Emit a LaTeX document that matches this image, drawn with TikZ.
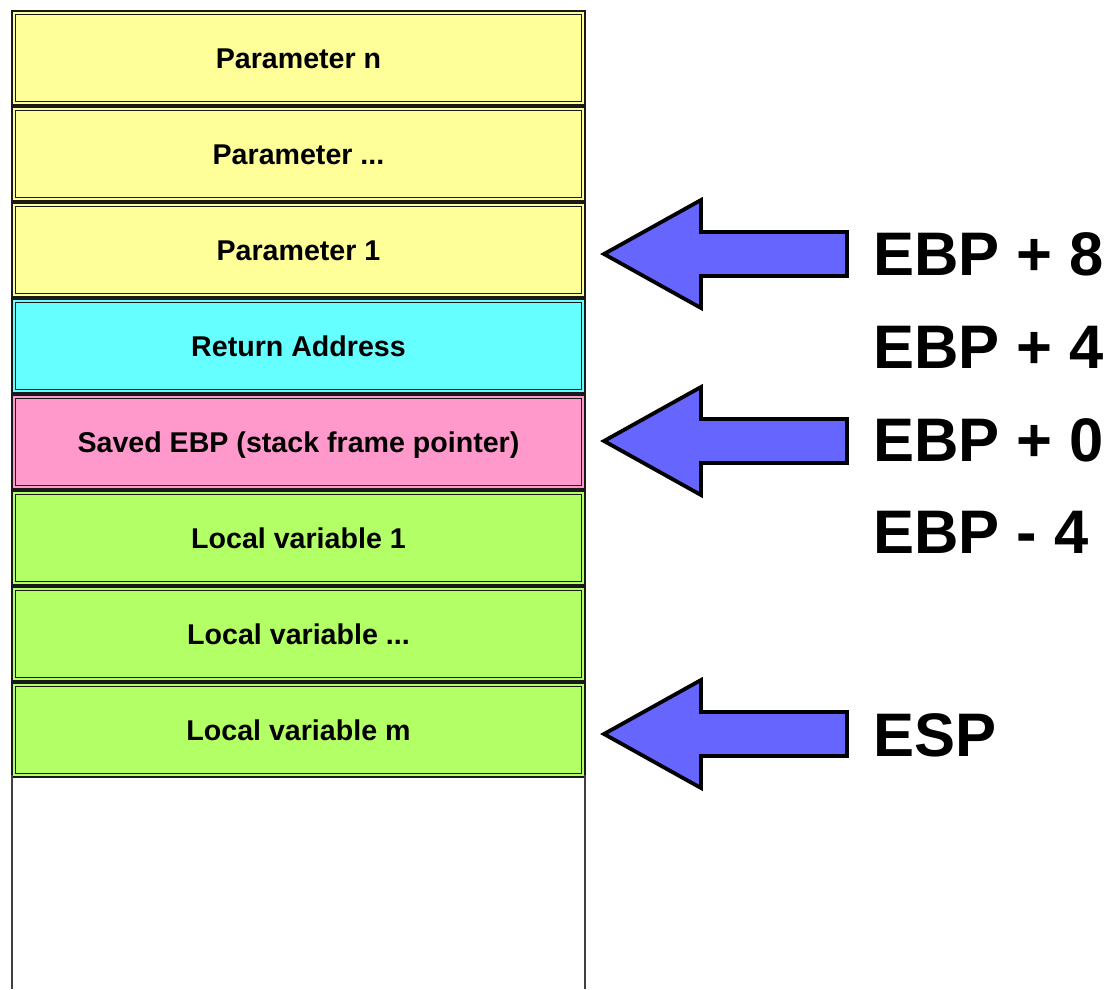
\documentclass[tikz,border=0pt]{standalone}
\usepackage{fontspec}
\setmainfont{Liberation Sans}
\definecolor{yel}{HTML}{FFFF99}
\definecolor{cya}{HTML}{66FFFF}
\definecolor{pnk}{HTML}{FF99CC}
\definecolor{grn}{HTML}{B3FF66}
\definecolor{blu}{HTML}{6666FF}
\newcommand\mydots{...}
\tikzset{
  cell/.style={draw=black!90, line width=1.8pt, double distance=1.8pt,
    minimum width=569.6pt, minimum height=90.6pt, inner sep=0pt,
    text height=21pt, text depth=0pt,
    font=\bfseries\fontsize{28.6}{34}\selectfont},
  lbl/.style={anchor=base west, inner sep=0pt,
    font=\bfseries\fontsize{61.5}{72}\selectfont},
  arrowshape/.style={draw=black, line width=3.8pt, fill=blu, line join=miter},
  ebparrow/.pic={\draw[arrowshape] (0,0) -- (97,-54) -- (97,-22) -- (243,-22)
     -- (243,22) -- (97,22) -- (97,54) -- cycle;},
  wall/.style={draw=black!75, line width=2.2pt}
}
\begin{document}
\begin{tikzpicture}[x=1pt,y=-1pt]
\useasboundingbox[fill=white] (0,0) rectangle (1112,989);
\coordinate (wl) at (12.1,989);
\coordinate (wr) at (584.9,989);
\foreach \i/\c/\t in {0/yel/{Parameter n}, 1/yel/{Parameter \mydots}, 2/yel/{Parameter 1},
  3/cya/{Return Address}, 4/pnk/{Saved EBP (stack frame pointer)},
  5/grn/{Local variable 1}, 6/grn/{Local variable \mydots}, 7/grn/{Local variable m}}
  \node[cell, double=\c, fill=\c] (c\i) at (298.5, 58+96*\i) {\t};
\draw[wall] (wl) |- ([xshift=-1.5pt]c7.south west);
\draw[wall] (wr) |- ([xshift=1.5pt]c7.south east);
\pic (a1) at (604,254) {ebparrow};
\pic (a2) at (604,441) {ebparrow};
\pic (a3) at (604,734) {ebparrow};
\node[lbl] (l8) at (873,275) {EBP + 8};
\node[lbl] (l4) at (873,368) {EBP + 4};
\node[lbl] (l0) at (873,461) {EBP + 0};
\node[lbl] (lm) at (873,553) {EBP - 4};
\node[lbl] (esp) at (873,756) {ESP};
\end{tikzpicture}
\end{document}
